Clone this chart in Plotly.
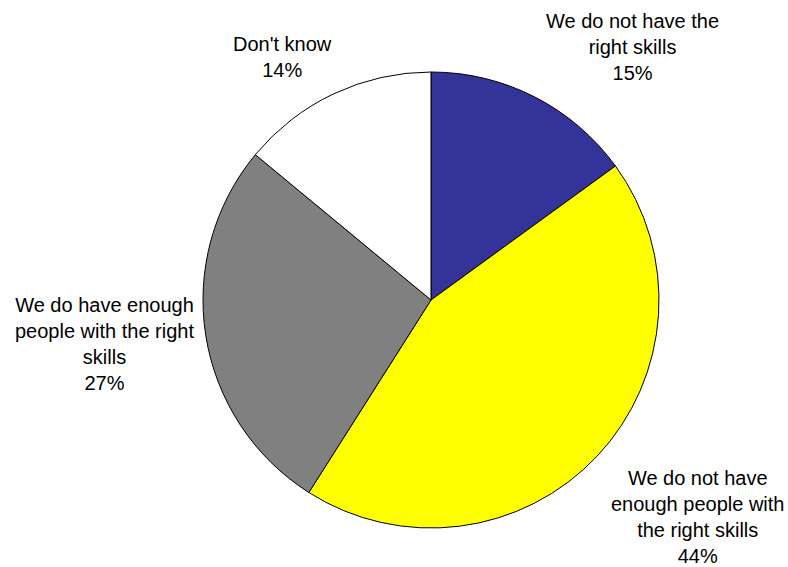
import plotly.graph_objects as go

categories = [
    "We do not have the<br>right skills",
    "We do not have<br>enough people with<br>the right skills",
    "We do have enough<br>people with the right<br>skills",
    "Don't know",
]
values = [15, 44, 27, 14]
colors = ["#333399", "#FFFF00", "#808080", "#FFFFFF"]

W, H = 788, 567
# label block centers in pixels
label_pos = [(632, 47), (697, 517), (104, 344), (282, 57)]

fig = go.Figure(go.Pie(
    labels=categories,
    values=values,
    sort=False,
    direction="clockwise",
    rotation=0,
    marker=dict(colors=colors, line=dict(color="#000000", width=1)),
    textinfo="none",
    hoverinfo="label+percent",
    domain=dict(x=[203 / W, 659 / W], y=[(H - 528) / H, (H - 72) / H]),
    showlegend=False,
))

total = sum(values)
for cat, v, (px, py) in zip(categories, values, label_pos):
    fig.add_annotation(
        x=px / W, y=1 - py / H, xref="paper", yref="paper",
        xanchor="center", yanchor="middle",
        text=f"{cat}<br>{round(100 * v / total)}%",
        showarrow=False, align="center",
        font=dict(family="Liberation Sans, Arial, sans-serif", size=20, color="#000000"),
    )

fig.update_layout(
    width=W, height=H,
    margin=dict(l=0, r=0, t=0, b=0),
    paper_bgcolor="#FFFFFF",
    plot_bgcolor="#FFFFFF",
)

fig.write_html("out.html")
